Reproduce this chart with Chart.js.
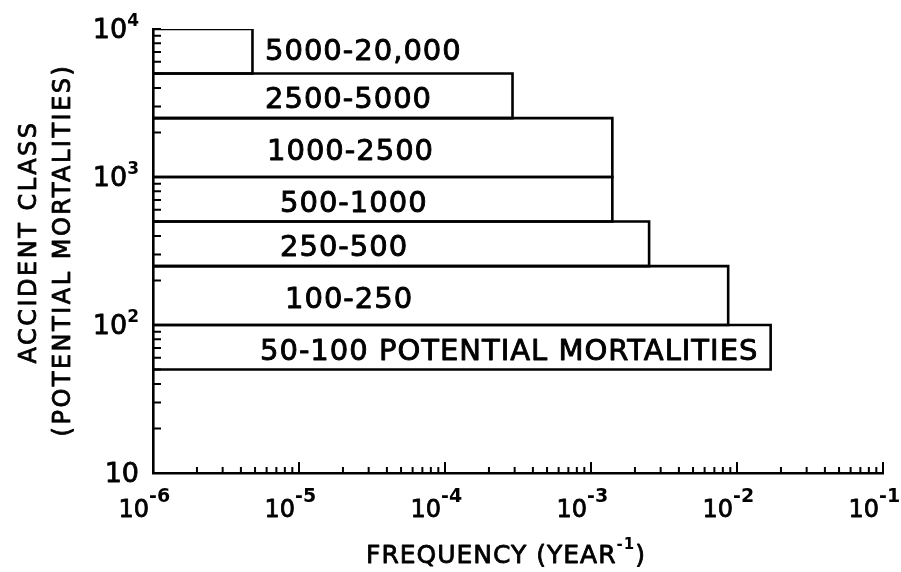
<!DOCTYPE html>
<html>
<head>
<meta charset="utf-8">
<title>Accident class frequency</title>
<script src="https://cdn.jsdelivr.net/npm/chart.js@4"></script>
<style>
  body { margin: 0; background: #fff; }
  canvas { display: block; }
</style>
</head>
<body>
<canvas id="accident-chart" width="901" height="572"></canvas>
<script>
// Accident classes (potential mortalities) and their frequency per year
const classLabels = ['5000-20,000', '2500-5000', '1000-2500', '500-1000', '250-500', '100-250', '50-100 POTENTIAL MORTALITIES'];
const classLow = [5000, 2500, 1000, 500, 250, 100, 50];
const classHigh = [20000, 5000, 2500, 1000, 500, 250, 100];
const frequency = [4.8e-6, 2.9e-4, 1.4e-3, 1.4e-3, 2.5e-3, 8.7e-3, 1.7e-2];

// Axis ranges and decade labels
const xMin = 1e-6, xMax = 1e-1;
const yMin = 10, yMax = 1e4;
const xTickValues = [1e-6, 1e-5, 1e-4, 1e-3, 1e-2, 1e-1];
const xTickExps = ['-6', '-5', '-4', '-3', '-2', '-1'];
const yTickValues = [10, 100, 1000, 10000];
const yTickExps = ['', '2', '3', '4'];

// left edge of each class label, in px
const labelLeft = [265, 265, 267, 280, 280, 285, 260];

const FONT = '"DejaVu Sans", sans-serif';

// one open rectangle per class, from the y axis out to its frequency
const datasets = classLabels.map((label, i) => {
    const top = Math.min(classHigh[i], yMax);
    return {
        label: label,
        data: [
            { x: xMin, y: classLow[i] },
            { x: frequency[i], y: classLow[i] },
            { x: frequency[i], y: top },
            { x: xMin, y: top }
        ],
        showLine: true,
        fill: false,
        borderColor: '#000',
        borderWidth: 2.6,
        borderJoinStyle: 'miter',
        pointRadius: 0,
        tension: 0
    };
});

// text with a thin outline so the lettering reads a bit heavier
function inkText(ctx, text, x, y, weight) {
    ctx.lineWidth = weight;
    ctx.strokeText(text, x, y);
    ctx.fillText(text, x, y);
}

// inward tick marks, decade labels, class labels and axis titles
const decorations = {
    id: 'decorations',
    afterDraw(chart) {
        const { ctx, chartArea } = chart;
        const xs = chart.scales.x;
        const ys = chart.scales.y;
        ctx.save();
        ctx.strokeStyle = '#000';
        ctx.lineWidth = 2;
        ctx.beginPath();
        for (let d = -6; d <= -1; d++) {
            for (let m = 1; m <= 9; m++) {
                if (d === -1 && m > 1) break;
                if (d === -6 && m === 1) continue;
                const px = xs.getPixelForValue(m * Math.pow(10, d));
                const len = m === 1 ? 11 : 6;
                ctx.moveTo(px, chartArea.bottom);
                ctx.lineTo(px, chartArea.bottom - len);
            }
        }
        for (let d = 1; d <= 4; d++) {
            for (let m = 1; m <= 9; m++) {
                if (d === 4 && m > 1) break;
                if (d === 1 && m === 1) continue;
                const py = ys.getPixelForValue(m * Math.pow(10, d));
                ctx.moveTo(chartArea.left, py);
                ctx.lineTo(chartArea.left + 8, py);
            }
        }
        ctx.stroke();

        ctx.fillStyle = '#000';
        ctx.lineJoin = 'round';
        ctx.textBaseline = 'alphabetic';

        // x decade labels
        xTickValues.forEach((v, i) => {
            const px = xs.getPixelForValue(v);
            ctx.font = '24px ' + FONT;
            ctx.textAlign = 'right';
            inkText(ctx, '10', px - 4, chartArea.bottom + 44, 0.8);
            ctx.font = 'bold 19px ' + FONT;
            ctx.textAlign = 'left';
            ctx.fillText(xTickExps[i], px - 4, chartArea.bottom + 29);
        });

        // y decade labels
        yTickValues.forEach((v, i) => {
            const py = ys.getPixelForValue(v);
            const right = chartArea.left - 14;
            ctx.font = 'bold 17px ' + FONT;
            const ew = yTickExps[i] ? ctx.measureText(yTickExps[i]).width : 0;
            ctx.textAlign = 'left';
            if (yTickExps[i]) ctx.fillText(yTickExps[i], right - ew, py - 3);
            ctx.font = '27px ' + FONT;
            ctx.textAlign = 'right';
            inkText(ctx, '10', right - ew, py + 9, 0.8);
        });

        // class labels, centred on each box
        ctx.font = '29px ' + FONT;
        ctx.letterSpacing = '1px';
        ctx.textAlign = 'left';
        ctx.textBaseline = 'middle';
        classLabels.forEach((label, i) => {
            const top = Math.min(classHigh[i], yMax);
            const mid = Math.sqrt(classLow[i] * top);
            const off = i === 0 ? 1 : 5;
            inkText(ctx, label, labelLeft[i], ys.getPixelForValue(mid) + off, 0.9);
        });

        // x axis title with superscript
        ctx.textBaseline = 'alphabetic';
        ctx.font = '25px ' + FONT;
        let tx = 366;
        const base = 563;
        inkText(ctx, 'FREQUENCY (YEAR', tx, base, 0.8);
        tx += ctx.measureText('FREQUENCY (YEAR').width;
        ctx.font = 'bold 15px ' + FONT;
        ctx.fillText('-1', tx, base - 14);
        tx += ctx.measureText('-1').width;
        ctx.font = '25px ' + FONT;
        inkText(ctx, ')', tx, base, 0.8);

        // y axis title, two rotated lines
        ctx.font = '24px ' + FONT;
        ctx.letterSpacing = '2.5px';
        ctx.textAlign = 'center';
        ctx.textBaseline = 'middle';
        ctx.translate(30, 242);
        ctx.rotate(-Math.PI / 2);
        inkText(ctx, 'ACCIDENT CLASS', 0, 0, 0.8);
        ctx.rotate(Math.PI / 2);
        ctx.translate(34, 8);
        ctx.rotate(-Math.PI / 2);
        inkText(ctx, '(POTENTIAL MORTALITIES)', 0, 0, 0.8);
        ctx.restore();
    }
};

const chartContext = document.getElementById('accident-chart').getContext('2d');

window.accidentChart = new Chart(chartContext, {
    type: 'scatter',
    data: { datasets: datasets },
    options: {
        responsive: false,
        animation: false,
        layout: {
            padding: { left: 153, top: 29, right: 18, bottom: 99 }
        },
        plugins: {
            legend: { display: false },
            tooltip: { enabled: false }
        },
        scales: {
            x: {
                type: 'logarithmic',
                min: xMin,
                max: xMax,
                grid: { display: false, drawTicks: false },
                border: { display: true, color: '#000', width: 2.6 },
                ticks: { display: false }
            },
            y: {
                type: 'logarithmic',
                min: yMin,
                max: yMax,
                grid: { display: false, drawTicks: false },
                border: { display: true, color: '#000', width: 2.6 },
                ticks: { display: false }
            }
        }
    },
    plugins: [decorations]
});
</script>
</body>
</html>
